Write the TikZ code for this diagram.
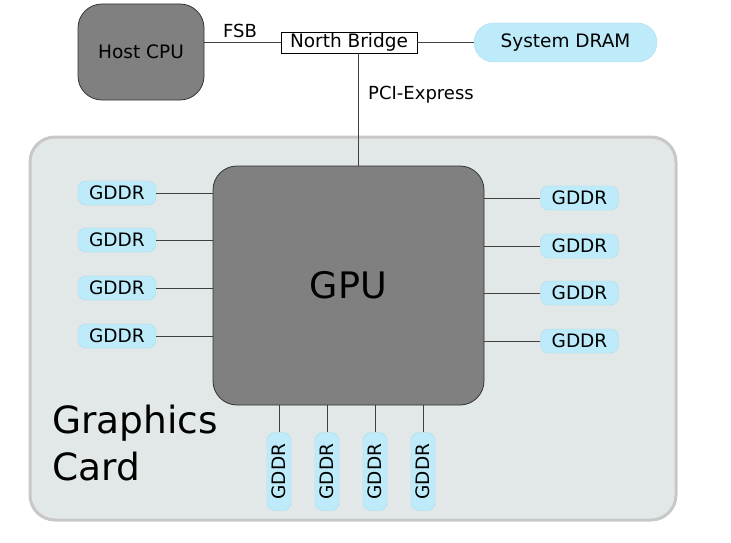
\documentclass[tikz,border=0pt]{standalone}
\usepackage{fontspec}
\setmainfont{DejaVu Sans}
\usepackage{xcolor}
\definecolor{chipgray}{RGB}{128,128,128}
\definecolor{memblue}{RGB}{189,235,250}
\definecolor{memedge}{RGB}{170,220,238}
\definecolor{cardgray}{RGB}{226,231,231}
\definecolor{cardedge}{RGB}{200,200,200}
\usepackage{tikz}
\usetikzlibrary{positioning}

\begin{document}
\begin{tikzpicture}[
  x=1pt, y=-1pt,
  chip/.style={rectangle, rounded corners=24pt, fill=chipgray, draw=black!80,
               line width=0.8pt, inner sep=0pt, font=\fontsize{18.5}{22}\selectfont},
  mem/.style={rectangle, rounded corners=8pt, fill=memblue, draw=memedge,
              line width=0.4pt, minimum width=78pt, minimum height=24pt,
              inner sep=0pt, font=\fontsize{18.5}{22}\selectfont},
  bridge/.style={rectangle, draw=black, fill=white, line width=0.8pt,
                 minimum width=136pt, minimum height=21pt, inner sep=0pt,
                 font=\fontsize{18.5}{22}\selectfont},
  card/.style={rectangle, rounded corners=25pt, fill=cardgray, draw=cardedge,
               line width=3pt, inner sep=0pt},
  link/.style={draw=black!75, line width=0.8pt},
  buslabel/.style={font=\fontsize{18}{22}\selectfont, inner sep=0pt}
]
\path[use as bounding box, fill=white] (0,0) rectangle (731,543);

%% host side
\node[chip, minimum width=126pt, minimum height=96pt] (cpu) at (141,52) {Host CPU};
\node[bridge] (nb) at (349,42.5) {North Bridge};
\node[mem, rounded corners=19.5pt, minimum width=183pt, minimum height=39pt] (dram)
  at (565.5,42.5) {System DRAM};

\draw[link] (nb.west -| cpu.east) -- (nb.west);
\draw[link] (nb.east) -- (dram.west);
\node[buslabel] (fsb) at (240,31) {FSB};

%% graphics card
\node[card, minimum width=646pt, minimum height=383pt] (card) at (353,328.5) {};
\node[anchor=north west, align=left, inner sep=0pt,
      font=\fontsize{37.5}{47}\selectfont] (cardname) at (52,404.5) {Graphics\\Card};

\node[chip, minimum width=271pt, minimum height=239pt,
      font=\fontsize{36.5}{44}\selectfont] (gpu) at (348.5,285.5) {GPU};

\draw[link] ([xshift=9pt]nb.south) -- ([xshift=9pt]nb.south |- gpu.north);
\node[buslabel] (pcie) at (421,95) {PCI-Express};

%% memory chips
\foreach \i/\y in {1/193,2/240,3/288,4/336} {
  \node[mem] (l\i) at (117,\y) {GDDR};
  \draw[link] (l\i) -- (l\i -| gpu.west);
}
\foreach \i/\y in {1/198,2/246,3/293,4/341} {
  \node[mem] (r\i) at (579.5,\y) {GDDR};
  \draw[link] (r\i -| gpu.east) -- (r\i);
}
\foreach \i/\x in {1/279,2/327,3/375,4/423} {
  \node[mem, rotate=90] (b\i) at (\x,471.5) {GDDR};
  \draw[link] (b\i |- gpu.south) -- (b\i);
}

\end{tikzpicture}
\end{document}
